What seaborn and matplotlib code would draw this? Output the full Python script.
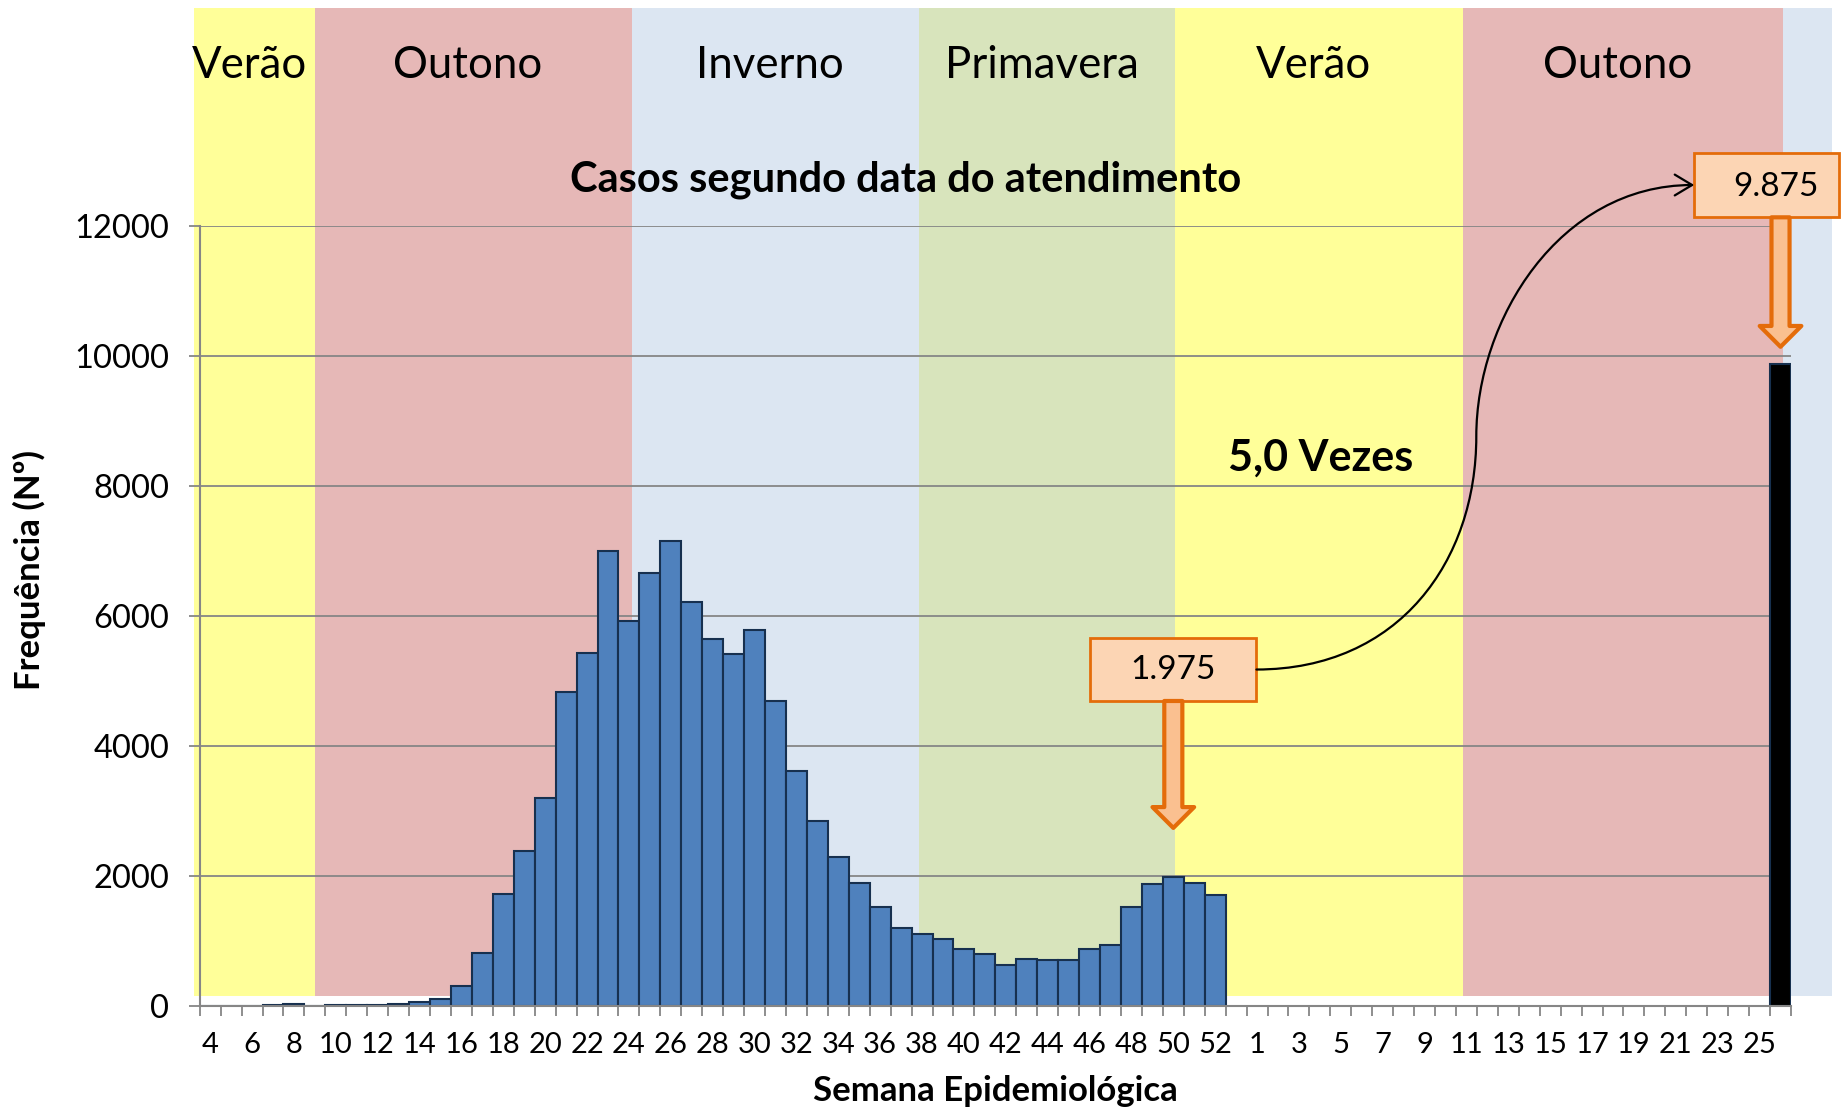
import numpy as np
import pandas as pd
import seaborn as sns
import matplotlib.pyplot as plt
from matplotlib.patches import Rectangle, FancyArrowPatch
from matplotlib.path import Path

# semanas epidemiologicas 2020 (4 a 53) e 2021 (1 a 26)
semanas_2020 = list(range(4, 54))
casos_2020 = [0, 0, 0, 10, 20, 0, 5, 8, 15, 30,
              50, 100, 303, 815, 1713, 2385, 3190, 4821, 5431, 6995,
              5913, 6652, 7154, 6211, 5642, 5406, 5775, 4692, 3615, 2842,
              2283, 1883, 1523, 1191, 1098, 1021, 877, 800, 631, 718,
              703, 708, 872, 934, 1518, 1877, 1975, 1883, 1698, np.nan]

semanas_2021 = list(range(1, 27))
casos_2021 = [np.nan, np.nan, np.nan, np.nan, np.nan, np.nan, np.nan, np.nan, np.nan, np.nan,
              np.nan, np.nan, np.nan, np.nan, np.nan, np.nan, np.nan, np.nan, np.nan, np.nan,
              np.nan, np.nan, np.nan, np.nan, np.nan, 9875]

# estacoes do ano (faixas de fundo), em posicao de categoria
estacoes = ['Verão', 'Outono', 'Inverno', 'Primavera', 'Verão', 'Outono', '']
estacao_inicio = [-0.78, 4.99, 20.13, 33.87, 46.1, 59.83, 75.14]
estacao_fim = [4.99, 20.13, 33.87, 46.1, 59.83, 75.14, 77.44]
cores_estacao = {'Verão': '#FFFF99', 'Outono': '#E6B8B7', 'Inverno': '#DCE6F2',
                 'Primavera': '#D8E4BC', '': '#DCE6F2'}

valor_2020 = 1975
valor_2021 = 9875

df = pd.DataFrame({
    'chave': [f'2020-{s:02d}' for s in semanas_2020] + [f'2021-{s:02d}' for s in semanas_2021],
    'semana': semanas_2020 + semanas_2021,
    'ano': ['2020'] * len(semanas_2020) + ['2021'] * len(semanas_2021),
    'casos': casos_2020 + casos_2021,
})
ordem = list(df['chave'])

sns.set_style('white')
plt.rcParams['font.family'] = ['Lato', 'DejaVu Sans']
plt.rcParams['text.color'] = 'black'
plt.rcParams['axes.labelcolor'] = 'black'
plt.rcParams['xtick.color'] = 'black'
plt.rcParams['ytick.color'] = 'black'

fig = plt.figure(figsize=(18.42, 11.08), dpi=100)
ax = fig.add_axes([0.10841, 0.09233, 0.86390, 0.70397])
ax.patch.set_alpha(0)

# faixas das estacoes
for nome, x0, x1 in zip(estacoes, estacao_inicio, estacao_fim):
    ax.axvspan(x0, x1, ymin=149 / 12000, ymax=15349 / 12000, color=cores_estacao[nome],
               lw=0, clip_on=False, zorder=0)
    if nome:
        ax.text((x0 + x1) / 2 - 0.25, 14460, nome, ha='center', va='center',
                fontsize=31.5, clip_on=False)

sns.barplot(data=df, x='chave', y='casos', hue='ano', order=ordem, dodge=False,
            palette={'2020': '#4F81BD', '2021': '#000000'}, saturation=1, width=1.0,
            edgecolor='#17304F', linewidth=1.5, errorbar=None, legend=False,
            ax=ax, zorder=2)

ax.set_ylim(0, 12000)
ax.set_yticks(range(0, 12001, 2000))
ax.set_axisbelow(True)
ax.yaxis.grid(True, color='#868686', lw=1.3, zorder=0.5)
ax.xaxis.grid(False)

rotulos = [str(s) if i % 2 == 0 else '' for i, s in enumerate(df['semana'])]
ax.set_xticks(range(0, len(ordem), 2))
ax.set_xticklabels(rotulos[::2])
ax.set_xticks(np.arange(-0.5, len(ordem), 1), minor=True)
ax.tick_params(axis='x', which='major', length=0, labelsize=21, pad=19, bottom=True)
ax.tick_params(axis='x', which='minor', length=7, color='#868686', width=1.3, bottom=True)
ax.tick_params(axis='y', length=8, color='#868686', width=1.3, labelsize=23.5, pad=14,
               left=True, labelcolor='black')
ax.tick_params(axis='x', labelcolor='black')

for lado in ['top', 'right']:
    ax.spines[lado].set_visible(False)
for lado in ['left', 'bottom']:
    ax.spines[lado].set_color('#868686')
    ax.spines[lado].set_linewidth(1.5)

ax.set_xlabel('Semana Epidemiológica', fontsize=25, fontweight='bold', va='center')
ax.xaxis.set_label_coords(0.5, -0.11)
ax.set_ylabel('Frequência (Nº)', fontsize=25, fontweight='bold', va='center')
ax.yaxis.set_label_coords(-0.1073, 0.5586)

ax.text(0.4438, 1.059, 'Casos segundo data do atendimento', transform=ax.transAxes,
        ha='center', va='center', fontsize=30, fontweight='bold')
ax.text(53.05, 8426, '5,0 Vezes', ha='center', va='center', fontsize=31, fontweight='bold')

# caixas e setas de destaque
i50 = ordem.index('2020-50')
i26 = ordem.index('2021-26')
caixa_fc, caixa_ec = '#FCD5B4', '#E46C0A'

ax.add_patch(Rectangle((i50 - 3.96, 4688), 7.93, 969, fc=caixa_fc, ec=caixa_ec, lw=2,
                       clip_on=False, zorder=5))
ax.text(i50, 5172, f'{valor_2020:,}'.replace(',', '.'), ha='center', va='center',
        fontsize=24, zorder=6)
ax.add_patch(Rectangle((i26 - 4.12, 12129), 6.9, 994, fc=caixa_fc, ec=caixa_ec, lw=2,
                       clip_on=False, zorder=5))
ax.text(i26 - 0.2, 12600, f'{valor_2021:,}'.replace(',', '.'), ha='center', va='center',
        fontsize=24, zorder=6, clip_on=False)

seta = dict(arrowstyle='simple,tail_width=1.3,head_width=3.0,head_length=1.5',
            fc='#FAC090', ec='#E46C0A', lw=3, shrinkA=0, shrinkB=0, mutation_scale=10)
ax.annotate('', xy=(i50, 2735), xytext=(i50, 4688), arrowprops=seta,
            annotation_clip=False, zorder=5)
ax.annotate('', xy=(i26, 10137), xytext=(i26, 12129), arrowprops=seta,
            annotation_clip=False, zorder=5)

curva = Path([(i50 + 3.97, 5172), (56.8, 5172), (60.47, 6849), (60.47, 8757),
              (60.47, 10549), (64.43, 12626), (i26 - 4.12, 12626)],
             [Path.MOVETO, Path.CURVE4, Path.CURVE4, Path.CURVE4,
              Path.CURVE4, Path.CURVE4, Path.CURVE4])
ax.add_patch(FancyArrowPatch(path=curva, arrowstyle='->,head_length=0.5,head_width=0.3',
                             mutation_scale=25, lw=1.6, color='black',
                             transform=ax.transData, clip_on=False, zorder=6))

ax.set_xlim(-0.5, len(ordem) - 0.5)
ax.set_ylim(0, 12000)

fig.savefig('out.png', dpi=100)
